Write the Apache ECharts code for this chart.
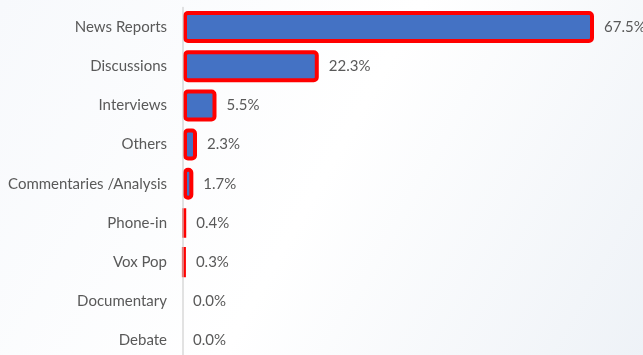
<!DOCTYPE html>
<html><head><meta charset="utf-8">
<script src="https://cdn.jsdelivr.net/npm/echarts@6/dist/echarts.min.js"></script>
<style>html,body{margin:0;padding:0;overflow:hidden}#c{width:643px;height:362px}</style>
</head><body><div id="c"></div>
<script>
const categories = ["News Reports","Discussions","Interviews","Others","Commentaries /Analysis","Phone-in","Vox Pop","Documentary","Debate"];
const values = [67.5,22.3,5.5,2.3,1.7,0.4,0.3,0.0,0.0];
const chart = echarts.init(document.getElementById('c'));
chart.setOption({
  backgroundColor: new echarts.graphic.LinearGradient(0,0,1,1,[{offset:0,color:'#f7f9fc'},{offset:0.5,color:'#ffffff'},{offset:1,color:'#eef2f7'}]),
  grid:{left:183, top:7.5, right:49, bottom:2, containLabel:false},
  xAxis:{type:'value', min:0, max:67.5, show:false},
  yAxis:{type:'category', inverse:true, data:categories, z:5,
    axisLine:{show:true, lineStyle:{color:'#d0d0d0', width:1.5, opacity:0.8}},
    axisTick:{show:false},
    axisLabel:{color:'#595959', fontSize:15, fontFamily:'Lato', margin:16}},
  series:[{type:'bar', barWidth:32,
    data: values.map(v=>({value:v, itemStyle: v===0?{borderWidth:0}:{}})),
    itemStyle:{color:'#4472C4', borderColor:'#ff0000', borderWidth:4, borderRadius:3},
    label:{show:true, position:'right', distance:10, color:'#595959', fontSize:15, fontFamily:'Lato',
      formatter:p=>p.value.toFixed(1)+'%'}
  }]
});
</script></body></html>
